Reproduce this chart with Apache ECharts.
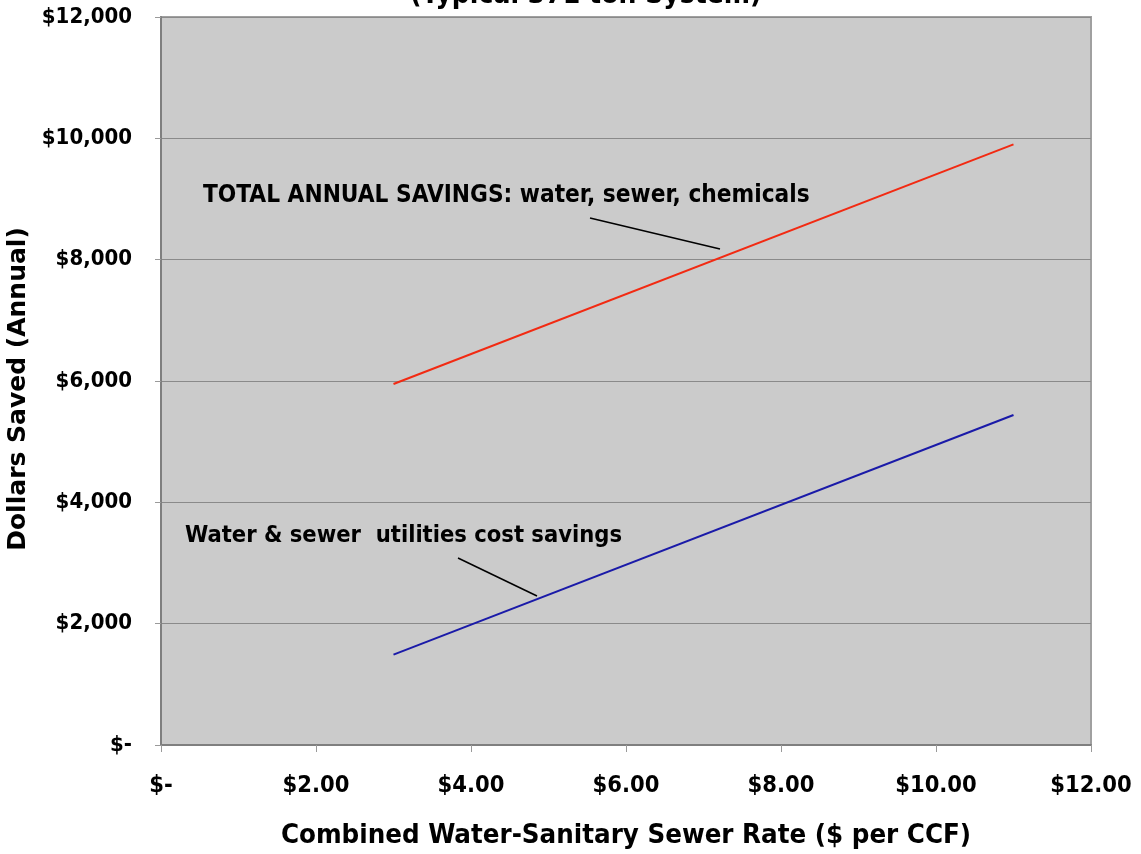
<!DOCTYPE html>
<html>
<head>
<meta charset="utf-8">
<script src="https://cdn.jsdelivr.net/npm/echarts@6/dist/echarts.min.js"></script>
<style>
  html, body { margin: 0; padding: 0; background: #ffffff; }
  #chart { width: 1141px; height: 854px; }
</style>
</head>
<body>
<div id="chart"></div>
<script>
// Combined water-sewer rate ($ per CCF) at each end of the plotted range
const rates = [3, 11];
// Annual dollars saved at those rates
const totalSavings = [5950, 9900];
const utilitySavings = [1490, 5440];

const xTicks = { min: 0, max: 12, interval: 2 };
const yTicks = { min: 0, max: 12000, interval: 2000 };

const FONT = '"DejaVu Sans Condensed", "DejaVu Sans", sans-serif';

const chart = echarts.init(document.getElementById('chart'), null, { renderer: 'canvas' });

function pairs(xs, ys) {
  return xs.map((x, i) => [x, ys[i]]);
}

chart.setOption({
  animation: false,
  backgroundColor: '#ffffff',
  grid: {
    left: 161, right: 50, top: 17, bottom: 109,
    outerBoundsMode: 'none',
    containLabel: false,
    show: true,
    backgroundColor: '#cbcbcb',
    borderColor: '#a0a0a0',
    borderWidth: 2
  },
  xAxis: {
    type: 'value',
    min: xTicks.min, max: xTicks.max, interval: xTicks.interval,
    name: 'Combined Water-Sanitary Sewer Rate ($ per CCF)',
    nameLocation: 'middle',
    nameGap: 77,
    nameTextStyle: { fontFamily: FONT, fontWeight: 'bold', fontSize: 27.4, color: '#000' },
    axisLine: { show: true, onZero: false, lineStyle: { color: '#7f7f7f', width: 2 } },
    axisTick: { show: true, length: 7, lineStyle: { color: '#9a9a9a', width: 1 } },
    axisLabel: {
      margin: 29,
      fontFamily: FONT, fontWeight: 'bold', fontSize: 23.5, color: '#000',
      formatter: v => v === 0 ? '$-' : '$' + v.toFixed(2)
    },
    splitLine: { show: false }
  },
  yAxis: {
    type: 'value',
    min: yTicks.min, max: yTicks.max, interval: yTicks.interval,
    name: 'Dollars Saved (Annual)',
    nameLocation: 'middle',
    nameGap: 123,
    nameTextStyle: {
      fontFamily: '"DejaVu Sans", sans-serif', fontWeight: 'bold', fontSize: 25, color: '#000',
      padding: [0, 16, 0, 0]
    },
    axisLine: { show: true, lineStyle: { color: '#7f7f7f', width: 2 } },
    axisTick: { show: true, length: 6, lineStyle: { color: '#9a9a9a', width: 1 } },
    axisLabel: {
      margin: 29,
      fontFamily: FONT, fontWeight: 'bold', fontSize: 22, color: '#000',
      formatter: v => v === 0 ? '$-' : '$' + v.toLocaleString('en-US')
    },
    splitLine: { show: true, lineStyle: { color: '#8a8a8a', width: 1 } }
  },
  series: [
    {
      name: 'TOTAL ANNUAL SAVINGS: water, sewer, chemicals',
      type: 'line',
      data: pairs(rates, totalSavings),
      symbol: 'none',
      lineStyle: { color: '#f22a12', width: 2 }
    },
    {
      name: 'Water & sewer  utilities cost savings',
      type: 'line',
      data: pairs(rates, utilitySavings),
      symbol: 'none',
      lineStyle: { color: '#1a1aa8', width: 2 }
    }
  ],
  graphic: [
    {
      type: 'text', x: 410, y: -18, z: 10,
      style: { text: '(Typical 371 ton System)', fontFamily: FONT, fontWeight: 'bold', fontSize: 28, fill: '#000' }
    },
    {
      type: 'text', x: 203, y: 196, z: 10,
      style: { text: 'TOTAL ANNUAL SAVINGS: water, sewer, chemicals', fontFamily: FONT, fontWeight: 'bold', fontSize: 24.2, fill: '#000', verticalAlign: 'middle' }
    },
    {
      type: 'line', z: 10,
      shape: { x1: 590, y1: 218, x2: 720, y2: 249 },
      style: { stroke: '#000', lineWidth: 1.5 }
    },
    {
      type: 'text', x: 185, y: 536, z: 10,
      style: { text: 'Water & sewer  utilities cost savings', fontFamily: FONT, fontWeight: 'bold', fontSize: 23.5, fill: '#000', verticalAlign: 'middle' }
    },
    {
      type: 'line', z: 10,
      shape: { x1: 458, y1: 558, x2: 537, y2: 596 },
      style: { stroke: '#000', lineWidth: 1.5 }
    }
  ]
});
</script>
</body>
</html>
